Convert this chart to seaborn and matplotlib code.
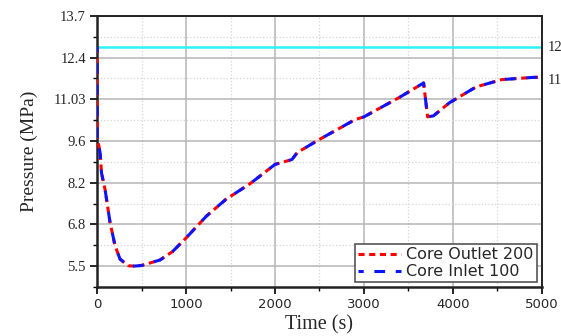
import numpy as np
import pandas as pd
import matplotlib
matplotlib.use("Agg")
import matplotlib.pyplot as plt
import seaborn as sns
from matplotlib.ticker import MultipleLocator, FixedLocator

time_s = [0, 3, 20, 35, 50, 90, 146, 202, 258, 352, 420, 500, 708, 850, 1000,
          1230, 1450, 1720, 2000, 2190, 2250, 2500, 2900, 3000, 3400, 3670,
          3715, 3780, 3960, 4260, 4550, 4890, 5000]
outlet_mpa = [12.67, 9.6, 9.45, 9.2, 8.55, 8.01, 6.93, 6.17, 5.73, 5.51, 5.5, 5.52,
              5.7, 5.98, 6.42, 7.14, 7.69, 8.2, 8.83, 8.99, 9.22, 9.65, 10.3,
              10.39, 11.03, 11.5, 10.39, 10.42, 10.85, 11.37, 11.61, 11.68, 11.69]
inlet_mpa = list(outlet_mpa)
setpoint = 12.67
ytick_labels = ["13.7", "12.4", "11.03", "9.6", "8.2", "6.8", "5.5"]
right_labels = ["12", "11"]

sns.set_theme(style="ticks")
df = pd.DataFrame({"t": time_s + time_s,
                   "p": outlet_mpa + inlet_mpa,
                   "series": ["Core Outlet 200"] * len(time_s) + ["Core Inlet 100"] * len(time_s)})

fig = plt.figure(figsize=(5.61, 3.36), dpi=100)
ax = fig.add_axes([0.173, 0.146, 0.793, 0.807])

step = (13.7 - 5.5) / 6
ymax = 13.7
ymin = 5.5 - step / 2
yt = [13.7 - i * step for i in range(7)]

ax.axhline(setpoint, color="#2ef2f8", lw=1.8, zorder=2)

sns.lineplot(data=df[df.series == "Core Outlet 200"], x="t", y="p", ax=ax,
             color="red", lw=2.2, linestyle=(0, (2, 1.5)), label="Core Outlet 200",
             zorder=3, estimator=None, sort=False)
sns.lineplot(data=df[df.series == "Core Inlet 100"], x="t", y="p", ax=ax,
             color="#0a14ff", lw=2.2, linestyle=(1.8, (3.5, 3.5)), label="Core Inlet 100",
             zorder=4, estimator=None, sort=False)

ax.set_xlim(0, 5000)
ax.set_ylim(ymin, ymax)
ax.xaxis.set_major_locator(MultipleLocator(1000))
ax.xaxis.set_minor_locator(MultipleLocator(500))
ax.yaxis.set_major_locator(FixedLocator(yt))
ax.yaxis.set_minor_locator(FixedLocator([v - step / 2 for v in yt]))
ax.set_yticklabels(ytick_labels, fontfamily="Liberation Serif", fontsize=10.5)
for lbl in ax.get_xticklabels():
    lbl.set_fontfamily("DejaVu Sans")
    lbl.set_fontsize(9.5)

ax.grid(which="major", color="#b5b5b5", lw=1.1, ls="-")
ax.grid(which="minor", color="#d5d5d5", lw=0.9, ls=":")
ax.set_axisbelow(True)

ax.tick_params(which="major", direction="out", length=5, width=1.2, color="black", pad=3)
ax.tick_params(which="minor", direction="out", length=3, width=1.0, color="black")
for s in ax.spines.values():
    s.set_color("#222222")
    s.set_linewidth(1.4)
ax.spines["left"].set_linewidth(1.8)
ax.spines["bottom"].set_linewidth(1.8)

ax.set_xlabel("Time (s)", fontfamily="Liberation Serif", fontsize=14.5, labelpad=3)
ax.set_ylabel("Pressure (MPa)", fontfamily="Liberation Serif", fontsize=14, labelpad=11)

ax.text(1.012, setpoint, right_labels[0], transform=ax.get_yaxis_transform(),
        va="center", ha="left", fontfamily="Liberation Serif", fontsize=10.5, clip_on=False)
ax.text(1.012, outlet_mpa[-1] - 0.1, right_labels[1], transform=ax.get_yaxis_transform(),
        va="center", ha="left", fontfamily="Liberation Serif", fontsize=10.5, clip_on=False)

leg = ax.legend(loc="lower right", bbox_to_anchor=(0.995, 0.005), frameon=True, fancybox=False,
                prop={"family": "DejaVu Sans", "size": 11.5}, handlelength=2.7,
                borderpad=0.2, labelspacing=0.12, handletextpad=0.3, borderaxespad=0.2)
leg.get_frame().set_edgecolor("#555555")
leg.get_frame().set_linewidth(1.2)
leg.get_frame().set_alpha(1)

fig.savefig("out.png", dpi=100)
